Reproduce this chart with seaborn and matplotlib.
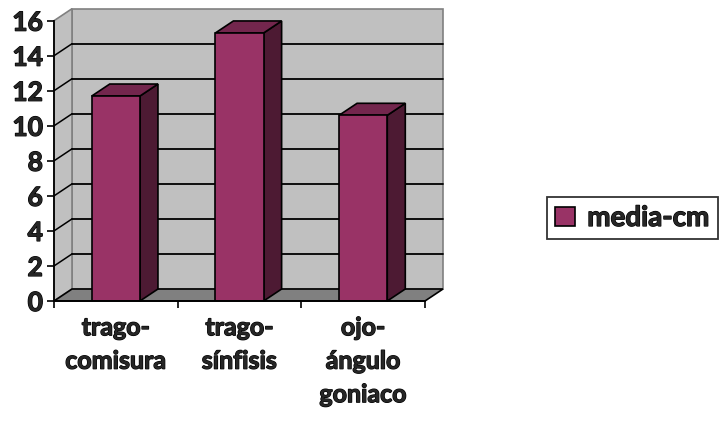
import matplotlib
matplotlib.use("Agg")
import matplotlib.pyplot as plt
import matplotlib.patheffects as pe
from matplotlib.patches import Polygon
import seaborn as sns

sns.set_theme(style="white")
plt.rcParams["font.family"] = ["Lato", "DejaVu Sans"]
plt.rcParams["font.weight"] = "bold"

categories = ["trago-\ncomisura", "trago-\nsínfisis", "ojo-\nángulo\ngoniaco"]
values = [11.7, 15.3, 10.6]
series_name = "media-cm"
y_ticks = [0, 2, 4, 6, 8, 10, 12, 14, 16]

FRONT = "#993366"
SIDE = "#4d1a33"
TOP = "#73264d"
WALL = "#c0c0c0"
FLOOR = "#808080"
heavy = [pe.withStroke(linewidth=0.9, foreground="black")]

fig = plt.figure(figsize=(7.25, 4.32), dpi=100)
ax = fig.add_axes([54 / 725, 131 / 432, 371 / 725, 280.3 / 432])

x0, x1 = -0.5, 2.5
ymax = 16
# depth offset of the 3D box, in data units
dx, dy = 0.1456, 0.685

# walls and floor
ax.add_patch(Polygon([(x0 + dx, dy), (x1 + dx, dy), (x1 + dx, ymax + dy), (x0 + dx, ymax + dy)],
                     closed=True, facecolor=WALL, edgecolor=FLOOR, lw=1.2, zorder=0, clip_on=False))
ax.add_patch(Polygon([(x0, 0), (x0 + dx, dy), (x0 + dx, ymax + dy), (x0, ymax)],
                     closed=True, facecolor=WALL, edgecolor=FLOOR, lw=1.2, zorder=0, clip_on=False))
ax.add_patch(Polygon([(x0, 0), (x1, 0), (x1 + dx, dy), (x0 + dx, dy)],
                     closed=True, facecolor=FLOOR, edgecolor="black", lw=1.2, zorder=0.5, clip_on=False))

# gridlines on back wall and side wall
for t in y_ticks[1:-1]:
    ax.plot([x0 + dx, x1 + dx], [t + dy, t + dy], color="black", lw=1.3, zorder=1, clip_on=False)
    ax.plot([x0, x0 + dx], [t, t + dy], color="black", lw=1.1, zorder=1, clip_on=False)

sns.barplot(x=categories, y=values, width=0.39, color=FRONT, saturation=1,
            edgecolor="black", linewidth=1.2, label=series_name, ax=ax, zorder=3)

# side and top faces of each bar
for p in ax.patches:
    if not hasattr(p, "get_width") or p.get_height() <= 0:
        continue
    bx0 = p.get_x()
    bx1 = bx0 + p.get_width()
    h = p.get_height()
    ax.add_patch(Polygon([(bx1, 0), (bx1 + dx, dy), (bx1 + dx, h + dy), (bx1, h)],
                         closed=True, facecolor=SIDE, edgecolor="black", lw=1.2, zorder=2.5, clip_on=False))
    ax.add_patch(Polygon([(bx0, h), (bx0 + dx, h + dy), (bx1 + dx, h + dy), (bx1, h)],
                         closed=True, facecolor=TOP, edgecolor="black", lw=1.2, zorder=2.5, clip_on=False))

ax.set_xlim(x0, x1)
ax.set_ylim(0, ymax)
for s in ["top", "right"]:
    ax.spines[s].set_visible(False)
for s in ["left", "bottom"]:
    ax.spines[s].set_color("black")
    ax.spines[s].set_linewidth(1.3)
    ax.spines[s].set_zorder(4)

ax.set_yticks(y_ticks)
ax.set_yticklabels([str(t) for t in y_ticks], fontsize=19, fontweight="bold")
ax.tick_params(axis="y", left=True, length=5, width=1.2, color="black", pad=3)
ax.set_xticks(range(len(categories)))
ax.set_xticklabels(categories, fontsize=18, fontweight="bold", linespacing=1.55)
ax.tick_params(axis="x", bottom=False, length=0, pad=11)
ax.set_xticks([x0, 0.5, 1.5, x1], minor=True)
ax.tick_params(axis="x", which="minor", bottom=True, length=5, width=1.2, color="black")
for lbl in ax.get_xticklabels() + ax.get_yticklabels():
    lbl.set_path_effects(heavy)
ax.set_xlabel("")
ax.set_ylabel("")
ax.grid(False)
ax.set_facecolor("none")

leg = ax.legend(loc="center left", bbox_to_anchor=(547 / 725, (432 - 218) / 432),
                bbox_transform=fig.transFigure, frameon=True, fancybox=False,
                borderaxespad=0, handlelength=0.7, handleheight=0.7, handletextpad=0.45,
                borderpad=0.3, prop={"size": 20, "weight": "bold"})
leg.get_frame().set_edgecolor("black")
leg.get_frame().set_linewidth(1.3)
for txt in leg.get_texts():
    txt.set_path_effects(heavy)

fig.savefig("out.png", dpi=100)
